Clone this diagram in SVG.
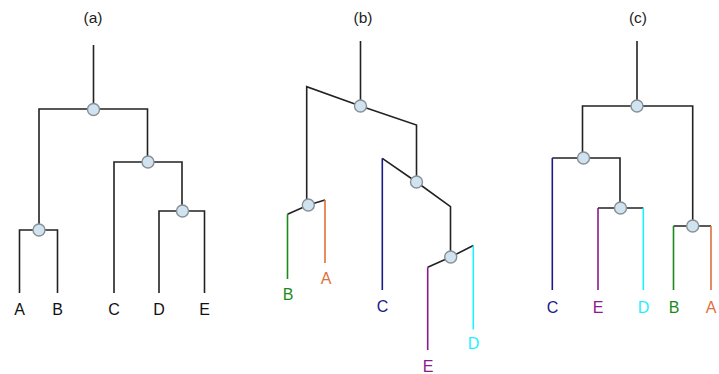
<svg xmlns="http://www.w3.org/2000/svg" width="719" height="374" viewBox="0 0 719 374">
  <style>
    text { font-family: "Liberation Sans", Arial, sans-serif; text-anchor: middle; }
    .title { font-size: 15.5px; fill: #222; }
    .leaf { font-size: 16px; }
    .edge { fill: none; stroke: #222; stroke-width: 1.6; stroke-linejoin: miter; }
    .tip { fill: none; stroke-width: 1.6; }
    .node { fill: #cfe3f1; stroke: #8a8f94; stroke-width: 1.4; }
    .cA { stroke: #e0703c; } .tA { fill: #e0703c; }
    .cB { stroke: #1a8a1a; } .tB { fill: #1a8a1a; }
    .cC { stroke: #1a1a8c; } .tC { fill: #1a1a8c; }
    .cD { stroke: #1ff0ff; } .tD { fill: #1ff0ff; }
    .cE { stroke: #8a1a8c; } .tE { fill: #8a1a8c; }
    .tk { fill: #111; }
  </style>

  <!-- panel titles -->
  <text class="title" x="93" y="23">(a)</text>
  <text class="title" x="363" y="23">(b)</text>
  <text class="title" x="638" y="23">(c)</text>

  <!-- branches -->
  <g id="connectors">
    <!-- (a) rectangular tree -->
    <path class="edge" d="M93.5,45 V109 M39,230 V109 H147.5 V162"/>
    <path class="edge" d="M19.5,293 V230 H57.5 V293"/>
    <path class="edge" d="M114,293 V162 H182 V211"/>
    <path class="edge" d="M159,293 V211 H204.5 V293"/>

    <!-- (b) slanted tree -->
    <path class="edge" d="M360.5,41 V106 M306.7,205 V86.7 L360.5,106 L416.5,125 V182"/>
    <path class="edge" d="M287.5,214.3 L308.3,205 L325,200"/>
    <path class="edge" d="M382.3,158.3 L416.5,182 L450.5,206.7 V257"/>
    <path class="edge" d="M427.7,267.3 L450.7,257 L473.3,245.5"/>
    <path class="tip cB" d="M287.5,214.3 V279"/>
    <path class="tip cA" d="M325,200 V263"/>
    <path class="tip cC" d="M382.3,158.3 V290"/>
    <path class="tip cE" d="M427.7,267.3 V350"/>
    <path class="tip cD" d="M473.3,245.5 V329.5"/>

    <!-- (c) rectangular tree, reordered -->
    <path class="edge" d="M637,41 V106 M582.5,158 V106 H692.7 V226"/>
    <path class="edge" d="M552.3,158 H620 V208"/>
    <path class="edge" d="M598,208 H643.3"/>
    <path class="edge" d="M673.5,226 H711"/>
    <path class="tip cC" d="M552.3,158 V290"/>
    <path class="tip cE" d="M598,208 V290"/>
    <path class="tip cD" d="M643.3,208 V290"/>
    <path class="tip cB" d="M673.5,226 V290"/>
    <path class="tip cA" d="M711,226 V290"/>
  </g>

  <!-- (a) internal nodes -->
  <g id="a-root"><circle class="node" cx="93.5" cy="109.5" r="6"/></g>
  <g id="a-AB"><circle class="node" cx="39" cy="230" r="6"/></g>
  <g id="a-CDE"><circle class="node" cx="148" cy="162" r="6"/></g>
  <g id="a-DE"><circle class="node" cx="182.5" cy="211" r="6"/></g>
  <!-- (a) leaves -->
  <g id="a-A"><text class="leaf tk" x="19.5" y="315">A</text></g>
  <g id="a-B"><text class="leaf tk" x="57.5" y="315">B</text></g>
  <g id="a-C"><text class="leaf tk" x="114" y="315">C</text></g>
  <g id="a-D"><text class="leaf tk" x="159" y="315">D</text></g>
  <g id="a-E"><text class="leaf tk" x="204.5" y="315">E</text></g>

  <!-- (b) internal nodes -->
  <g id="b-root"><circle class="node" cx="360.5" cy="106" r="6"/></g>
  <g id="b-AB"><circle class="node" cx="308.3" cy="205" r="6"/></g>
  <g id="b-CDE"><circle class="node" cx="416.5" cy="182" r="6"/></g>
  <g id="b-DE"><circle class="node" cx="450.7" cy="257" r="6"/></g>
  <!-- (b) leaves -->
  <g id="b-B"><text class="leaf tB" x="288" y="300">B</text></g>
  <g id="b-A"><text class="leaf tA" x="326" y="284">A</text></g>
  <g id="b-C"><text class="leaf tC" x="382.5" y="312">C</text></g>
  <g id="b-E"><text class="leaf tE" x="428" y="371.5">E</text></g>
  <g id="b-D"><text class="leaf tD" x="473.5" y="348.5">D</text></g>

  <!-- (c) internal nodes -->
  <g id="c-root"><circle class="node" cx="637" cy="106" r="6"/></g>
  <g id="c-CDE"><circle class="node" cx="583.5" cy="158" r="6"/></g>
  <g id="c-DE"><circle class="node" cx="620.5" cy="208" r="6"/></g>
  <g id="c-AB"><circle class="node" cx="692.7" cy="226" r="6"/></g>
  <!-- (c) leaves -->
  <g id="c-C"><text class="leaf tC" x="552.5" y="312.5">C</text></g>
  <g id="c-E"><text class="leaf tE" x="598" y="312.5">E</text></g>
  <g id="c-D"><text class="leaf tD" x="643.5" y="312.5">D</text></g>
  <g id="c-B"><text class="leaf tB" x="674" y="312.5">B</text></g>
  <g id="c-A"><text class="leaf tA" x="711" y="312.5">A</text></g>
</svg>
